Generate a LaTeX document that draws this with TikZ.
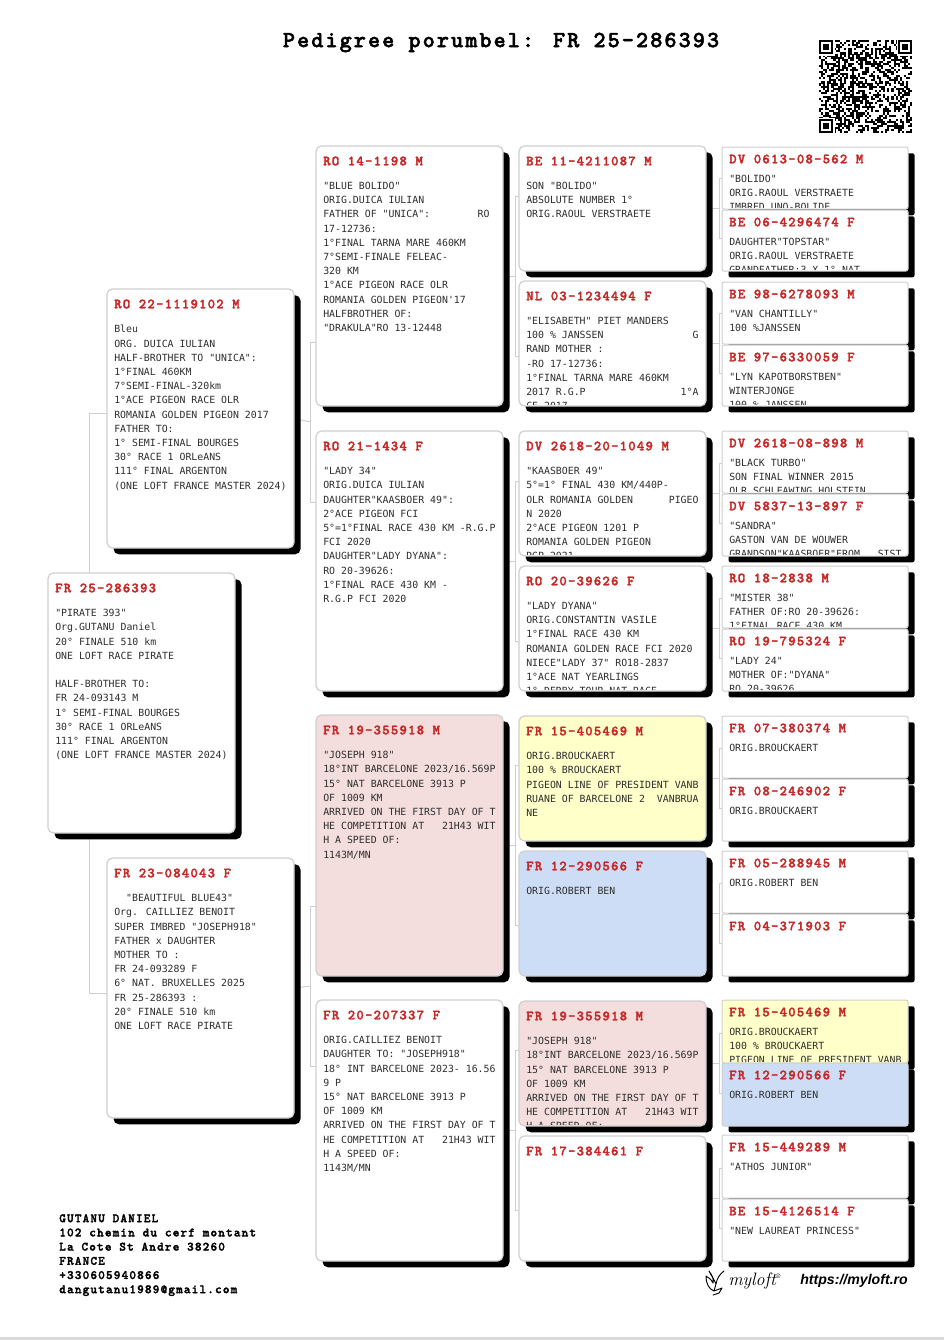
\documentclass[tikz,border=0pt]{standalone}
\usepackage{fontspec}
\usetikzlibrary{shadows,calc}
\newfontfamily\bodyfam{DejaVu Sans Mono}
\newfontfamily\slabfam[Extension=.otf,LetterSpace=9,FakeBold=2.2]{lmmonolt10-bold}
\newfontfamily\urlfam{Liberation Sans}
\definecolor{ringred}{HTML}{C62828}
\definecolor{bodygrey}{HTML}{2E2E2E}
\definecolor{edgegrey}{HTML}{CFCFCF}
\definecolor{roseback}{HTML}{F4DDDD}
\definecolor{lemonback}{HTML}{FFFFC9}
\definecolor{skyback}{HTML}{CDDDF6}
\pgfdeclarelayer{links}
\pgfsetlayers{links,main}
\tikzset{
    card/.style={draw=edgegrey,fill=white,line width=.9pt,rounded corners=4pt,inner sep=0pt,outer sep=0pt,
        minimum width=140.25pt,anchor=north west,general shadow={fill=black,shadow xshift=4.9pt,shadow yshift=-4.7pt}},
    slim/.style={card,line width=.75pt,rounded corners=1.5pt,minimum width=139.5pt},
    rose/.style={fill=roseback},
    lemon/.style={fill=lemonback},
    sky/.style={fill=skyback},
    ring/.style={anchor=west,inner sep=0pt,text=ringred,font=\slabfam\fontsize{10.5}{12}\selectfont},
    notes/.style={anchor=north west,inner sep=0pt,align=left,text=bodygrey,font=\bodyfam\fontsize{7.4}{10.65}\selectfont},
    link/.style={draw=edgegrey,line width=.75pt},
    postal/.style={anchor=north west,inner sep=0pt,align=left,font=\slabfam\fontsize{9.5}{10.65}\selectfont},
}
\newcommand{\gap}[1]{\hspace*{#1\fontcharwd\font`0}}
\newcommand{\cardbase}[9]{
    \node[#1,minimum height=#5*0.75pt] (#2) at (#3,#4) {};
    \begin{scope}
        \clip (#2.north west) rectangle ([shift={(0,-1.5)}]#2.south east);
        \node[ring] (#2ring) at ([shift={(7,#6)}]#2.north west) {#8};
        \node[notes] (#2notes) at ([shift={(7,#7)}]#2.north west) {#9};
    \end{scope}
}
\newcommand{\birdcard}[7][]{\cardbase{card,#1}{#2}{#3}{#4}{#5}{15}{36}{#6}{#7}}
\newcommand{\slimcard}[7][]{\cardbase{slim,#1}{#2}{#3}{#4}{#5}{12}{27.5}{#6}{#7}}
\newcommand{\forkline}[6][0]{
    \begin{pgfonlayer}{links}
        \coordinate (joint) at ([shift={(-#5,#1)}]#3.west |- #2.east);
        \coordinate (jointup) at ([shift={(0,-#6)}]joint);
        \coordinate (jointdown) at ([shift={(0,#6)}]joint);
        \draw[link] (#2.east) -- (joint);
        \draw[link] (#3.west |- jointup) -- (jointup) -- (jointdown) -- (#4.west |- jointdown);
    \end{pgfonlayer}
}
\begin{document}
\begin{tikzpicture}[x=0.75pt,y=-0.75pt]
    \useasboundingbox (0,0) rectangle (944,1340);
    \fill[black!15] (0,1336.5) rectangle (944,1340);
    \node[inner sep=0pt,font=\slabfam\fontsize{17.3}{20}\selectfont] (title) at (501,42.5) {Pedigree porumbel: FR 25-286393};

    \begin{scope}[shift={(819,40)},x=1.5525pt,y=-1.5525pt]
        \pgfmathsetseed{393}
        \foreach \qrrow in {0,...,44} {
            \foreach \qrcol in {0,...,44} {
                \pgfmathrandominteger{\qrbit}{0}{1}
                \ifnum\qrbit=1
                    \fill[black] (\qrcol,\qrrow) rectangle ++(1.02,1.02);
                \fi
            }
        }
        \foreach \qrx/\qry in {0/0,38/0,0/38} {
            \fill[white] ($(\qrx,\qry)+(-.5,-.5)$) rectangle ++(8,8);
            \fill[black] (\qrx,\qry) rectangle ++(7,7);
            \fill[white] ($(\qrx,\qry)+(1,1)$) rectangle ++(5,5);
            \fill[black] ($(\qrx,\qry)+(2,2)$) rectangle ++(3,3);
        }
    \end{scope}

    \birdcard{fr25}{48}{573}{260}{FR 25-286393}{"PIRATE 393"\\Org.GUTANU Daniel\\20° FINALE 510 km\\ONE LOFT RACE PIRATE\\[10.65pt]HALF-BROTHER TO:\\FR 24-093143 M\\1° SEMI-FINAL BOURGES\\30° RACE 1 ORLeANS\\111° FINAL ARGENTON\\(ONE LOFT FRANCE MASTER 2024)}

    \birdcard{ro22}{107}{289}{259}{RO 22-1119102 M}{Bleu\\ORG. DUICA IULIAN\\HALF-BROTHER TO "UNICA":\\1°FINAL 460KM\\7°SEMI-FINAL-320km\\1°ACE PIGEON RACE OLR\\ROMANIA GOLDEN PIGEON 2017\\FATHER TO:\\1° SEMI-FINAL BOURGES\\30° RACE 1 ORLeANS\\111° FINAL ARGENTON\\(ONE LOFT FRANCE MASTER 2024)}
    \birdcard{fr23}{107}{858}{260}{FR 23-084043 F}{\gap{2}"BEAUTIFUL BLUE43"\\Org. CAILLIEZ BENOIT\\SUPER IMBRED "JOSEPH918"\\FATHER x DAUGHTER\\MOTHER TO :\\FR 24-093289 F\\6° NAT. BRUXELLES 2025\\FR 25-286393 :\\20° FINALE 510 km\\ONE LOFT RACE PIRATE}

    \birdcard{ro14}{316}{146}{260}{RO 14-1198 M}{"BLUE BOLIDO"\\ORIG.DUICA IULIAN\\FATHER OF "UNICA":\gap{8}RO\\17-12736:\\1°FINAL TARNA MARE 460KM\\7°SEMI-FINALE FELEAC-\\320 KM\\1°ACE PIGEON RACE OLR\\ROMANIA GOLDEN PIGEON'17\\HALFBROTHER OF:\\"DRAKULA"RO 13-12448}
    \birdcard{ro21}{316}{431}{260}{RO 21-1434 F}{"LADY 34"\\ORIG.DUICA IULIAN\\DAUGHTER"KAASBOER 49":\\2°ACE PIGEON FCI\\5°=1°FINAL RACE 430 KM -R.G.P\\FCI 2020\\DAUGHTER"LADY DYANA":\\RO 20-39626:\\1°FINAL RACE 430 KM -\\R.G.P FCI 2020}
    \birdcard[rose]{fr19}{316}{715}{261}{FR 19-355918 M}{"JOSEPH 918"\\18°INT BARCELONE 2023/16.569P\\15° NAT BARCELONE 3913 P\\OF 1009 KM\\ARRIVED ON THE FIRST DAY OF T\\HE COMPETITION AT\gap{3}21H43 WIT\\H A SPEED OF:\\1143M/MN}
    \birdcard{fr20}{316}{1000}{261}{FR 20-207337 F}{ORIG.CAILLIEZ BENOIT\\DAUGHTER TO: "JOSEPH918"\\18° INT BARCELONE 2023- 16.56\\9 P\\15° NAT BARCELONE 3913 P\\OF 1009 KM\\ARRIVED ON THE FIRST DAY OF T\\HE COMPETITION AT\gap{3}21H43 WIT\\H A SPEED OF:\\1143M/MN}

    \birdcard{be11}{519}{146}{125}{BE 11-4211087 M}{SON "BOLIDO"\\ABSOLUTE NUMBER 1°\\ORIG.RAOUL VERSTRAETE}
    \birdcard{nl03}{519}{281}{125}{NL 03-1234494 F}{"ELISABETH" PIET MANDERS\\100 \% JANSSEN\gap{15}G\\RAND MOTHER :\\-RO 17-12736:\\1°FINAL TARNA MARE 460KM\\2017 R.G.P\gap{16}1°A\\CE 2017}
    \birdcard{dv20}{519}{431}{125}{DV 2618-20-1049 M}{"KAASBOER 49"\\5°=1° FINAL 430 KM/440P-\\OLR ROMANIA GOLDEN\gap{6}PIGEO\\N 2020\\2°ACE PIGEON 1201 P\\ROMANIA GOLDEN PIGEON\\RGP 2021}
    \birdcard{ro20}{519}{566}{125}{RO 20-39626 F}{"LADY DYANA"\\ORIG.CONSTANTIN VASILE\\1°FINAL RACE 430 KM\\ROMANIA GOLDEN RACE FCI 2020\\NIECE"LADY 37" RO18-2837\\1°ACE NAT YEARLINGS\\1° DERBY TOUR NAT RACE}
    \birdcard[lemon]{fr15}{519}{716}{125}{FR 15-405469 M}{ORIG.BROUCKAERT\\100 \% BROUCKAERT\\PIGEON LINE OF PRESIDENT VANB\\RUANE OF BARCELONE 2\gap{2}VANBRUA\\NE}
    \birdcard[sky]{fr12}{519}{851}{125}{FR 12-290566 F}{ORIG.ROBERT BEN}
    \birdcard[rose]{fr19b}{519}{1001}{125}{FR 19-355918 M}{"JOSEPH 918"\\18°INT BARCELONE 2023/16.569P\\15° NAT BARCELONE 3913 P\\OF 1009 KM\\ARRIVED ON THE FIRST DAY OF T\\HE COMPETITION AT\gap{3}21H43 WIT\\H A SPEED OF:}
    \birdcard{fr17}{519}{1136}{125}{FR 17-384461 F}{}

    \slimcard{dv06}{722}{147}{62}{DV 0613-08-562 M}{"BOLIDO"\\ORIG.RAOUL VERSTRAETE\\IMBRED UNO-BOLIDE}
    \slimcard{be06}{722}{210}{61}{BE 06-4296474 F}{DAUGHTER"TOPSTAR"\\ORIG.RAOUL VERSTRAETE\\GRANDFATHER:3 X 1° NAT}
    \slimcard{be98}{722}{282}{62}{BE 98-6278093 M}{"VAN CHANTILLY"\\100 \%JANSSEN}
    \slimcard{be97}{722}{345}{61}{BE 97-6330059 F}{"LYN KAPOTBORSTBEN"\\WINTERJONGE\\100 \% JANSSEN}
    \slimcard{dv08}{722}{431}{62}{DV 2618-08-898 M}{"BLACK TURBO"\\SON FINAL WINNER 2015\\OLR SCHLEAWING HOLSTEIN}
    \slimcard{dv13}{722}{494}{62}{DV 5837-13-897 F}{"SANDRA"\\GASTON VAN DE WOUWER\\GRANDSON"KAASBOER"FROM\gap{3}SIST}
    \slimcard{ro18}{722}{566}{62}{RO 18-2838 M}{"MISTER 38"\\FATHER OF:RO 20-39626:\\1°FINAL RACE 430 KM}
    \slimcard{ro19}{722}{629}{62}{RO 19-795324 F}{"LADY 24"\\MOTHER OF:"DYANA"\\RO 20-39626}
    \slimcard{fr07}{722}{716}{62}{FR 07-380374 M}{ORIG.BROUCKAERT}
    \slimcard{fr08}{722}{779}{62}{FR 08-246902 F}{ORIG.BROUCKAERT}
    \slimcard{fr05}{722}{851}{62}{FR 05-288945 M}{ORIG.ROBERT BEN}
    \slimcard{fr04}{722}{914}{62}{FR 04-371903 F}{}
    \slimcard[lemon]{fr15b}{722}{1000}{63}{FR 15-405469 M}{ORIG.BROUCKAERT\\100 \% BROUCKAERT\\PIGEON LINE OF PRESIDENT VANB}
    \slimcard[sky]{fr12b}{722}{1063}{63}{FR 12-290566 F}{ORIG.ROBERT BEN}
    \slimcard{fr15c}{722}{1135}{63}{FR 15-449289 M}{"ATHOS JUNIOR"}
    \slimcard{be15}{722}{1199}{62}{BE 15-4126514 F}{"NEW LAUREAT PRINCESS"}

    \forkline{fr25}{ro22}{fr23}{18}{290}
    \forkline[3.5]{ro22}{ro14}{ro21}{5.3}{80}
    \forkline[-2]{fr23}{fr19}{fr20}{5.3}{80}
    \forkline{ro14}{be11}{nl03}{3.3}{80}
    \forkline{ro21}{dv20}{ro20}{3.3}{80}
    \forkline{fr19}{fr15}{fr12}{3.3}{80}
    \forkline{fr20}{fr19b}{fr17}{3.3}{80}
    \forkline{be11}{dv06}{be06}{3}{30}
    \forkline{nl03}{be98}{be97}{3}{30}
    \forkline{dv20}{dv08}{dv13}{3}{30}
    \forkline{ro20}{ro18}{ro19}{3}{30}
    \forkline{fr15}{fr07}{fr08}{3}{30}
    \forkline{fr12}{fr05}{fr04}{3}{30}
    \forkline{fr19b}{fr15b}{fr12b}{3}{30}
    \forkline{fr17}{fr15c}{be15}{3}{30}

    \node[postal] (address) at (59,1214) {GUTANU DANIEL\\102 chemin du cerf montant\\La Cote St Andre 38260\\FRANCE\\+330605940866\\dangutanu1989@gmail.com};

    \draw[black,line width=.7pt,line join=round,line cap=round] (706,1276) .. controls (709,1278) and (711,1279) .. (713,1283) .. controls (714,1279) and (712,1275) .. (709,1271)
        (724,1271) .. controls (720,1274) and (717,1278) .. (716,1284) .. controls (714,1279) and (712,1277) .. (709,1271)
        (706,1276) .. controls (706,1284) and (709,1289) .. (714,1291) -- (722,1288) -- (719,1293) -- (713,1295)
        (714,1291) -- (716,1284);
    \node[inner sep=0pt,anchor=west,font=\itshape\fontsize{13.5}{15}\selectfont] (logo) at (728,1281) {myloft\textsuperscript{\tiny ®}};
    \node[inner sep=0pt,anchor=west,font=\urlfam\bfseries\itshape\fontsize{10.6}{13}\selectfont] (site) at (800,1281) {https://myloft.ro};
\end{tikzpicture}
\end{document}
